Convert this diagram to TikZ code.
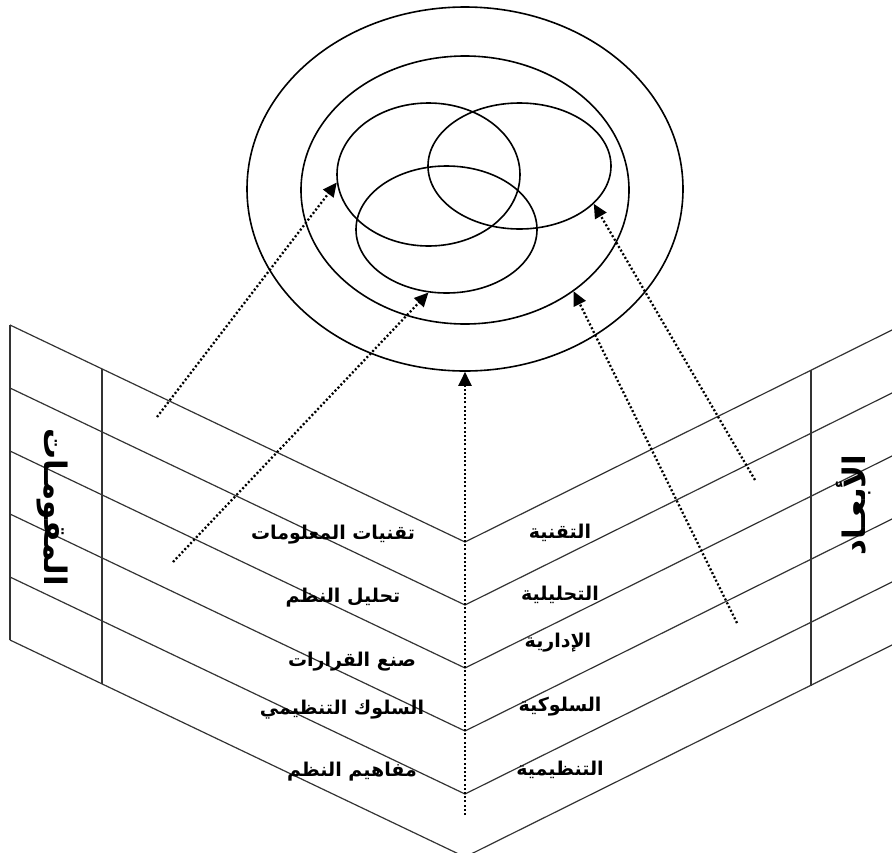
\documentclass[tikz,border=0pt]{standalone}
\usepackage{fontspec}
\newfontfamily\arabicfont[Script=Arabic]{DejaVu Sans}
\TeXXeTstate=1
\usetikzlibrary{arrows.meta,shapes.geometric}

\begin{document}
\begin{tikzpicture}[
  x=1pt, y=-1pt,
  ring/.style={draw, ellipse, line width=1.6pt, inner sep=0pt},
  edge/.style={draw=black!80, line width=1.2pt},
  ar/.style={-{Triangle[length=14pt,width=13pt]}, line width=2.3pt, dash pattern=on 2pt off 2.2pt},
  lbl/.style={font=\arabicfont\bfseries\fontsize{19}{22}\selectfont},
  side/.style={font=\arabicfont\bfseries\fontsize{31}{36}\selectfont},
]
\clip (0,0) rectangle (892,852);
\useasboundingbox (0,0) rectangle (892,852);

% ---------- rings ----------
\node[ring, minimum width=436pt, minimum height=364pt] (outer) at (465,189) {};
\node[ring, minimum width=328pt, minimum height=268pt] (mid)   at (465,190) {};
\node[ring, minimum width=183pt, minimum height=143pt] (ea)    at (428.5,174.5) {};
\node[ring, minimum width=183pt, minimum height=126pt] (eb)    at (519.5,166) {};
\node[ring, minimum width=181pt, minimum height=127pt] (ec)    at (446.5,229.5) {};

% ---------- left sheet ----------
\draw[edge] (10,325) -- (10,640);
\draw[edge] (102,369) -- (102,684);
\draw[edge] (10,325) -- (465,542);
\draw[edge] (10,388) -- (465,605);
\draw[edge] (10,451) -- (465,668);
\draw[edge] (10,514) -- (465,731);
\draw[edge] (10,577) -- (465,794);
\draw[edge] (10,640) -- (465,857);

% ---------- right sheet ----------
\draw[edge] (811,370) -- (811,686);
\draw[edge] (465,542) -- (892,330);
\draw[edge] (465,605) -- (892,393);
\draw[edge] (465,668) -- (892,456);
\draw[edge] (465,731) -- (892,519);
\draw[edge] (465,794) -- (892,582);
\draw[edge] (465,857) -- (892,645);

% ---------- side titles ----------
\node[side, rotate=-90] (mq) at (52,507)  {\beginR المقومـات\endR};
\node[side, rotate=90]  (ab) at (854,505) {\beginR الأبعـاد\endR};

% ---------- labels ----------
\node[lbl] (m1) at (333,535) {\beginR تقنيات المعلومات\endR};
\node[lbl] (m2) at (343,598) {\beginR تحليل النظم\endR};
\node[lbl] (m3) at (352,662) {\beginR صنع القرارات\endR};
\node[lbl] (m4) at (342,710) {\beginR السلوك التنظيمي\endR};
\node[lbl] (m5) at (352,772) {\beginR مفاهيم النظم\endR};
\node[lbl] (b1) at (560,533) {\beginR التقنية\endR};
\node[lbl] (b2) at (560,595) {\beginR التحليلية\endR};
\node[lbl] (b3) at (558,643) {\beginR الإدارية\endR};
\node[lbl] (b4) at (560,707) {\beginR السلوكية\endR};
\node[lbl] (b5) at (560,770) {\beginR التنظيمية\endR};

% ---------- arrows ----------
\coordinate (s1) at (157,417);
\coordinate (s2) at (173,562);
\coordinate (s3) at (465,815);
\coordinate (s4) at (737,623);
\coordinate (s5) at (755,480);
\draw[ar] (s1) -- (ea.185);
\draw[ar] (s2) -- (ec.254);
\draw[ar] (s3) -- (outer.south);
\draw[ar] (s4) -- (mid.317);
\draw[ar] (s5) -- (eb.333);
\end{tikzpicture}
\end{document}
